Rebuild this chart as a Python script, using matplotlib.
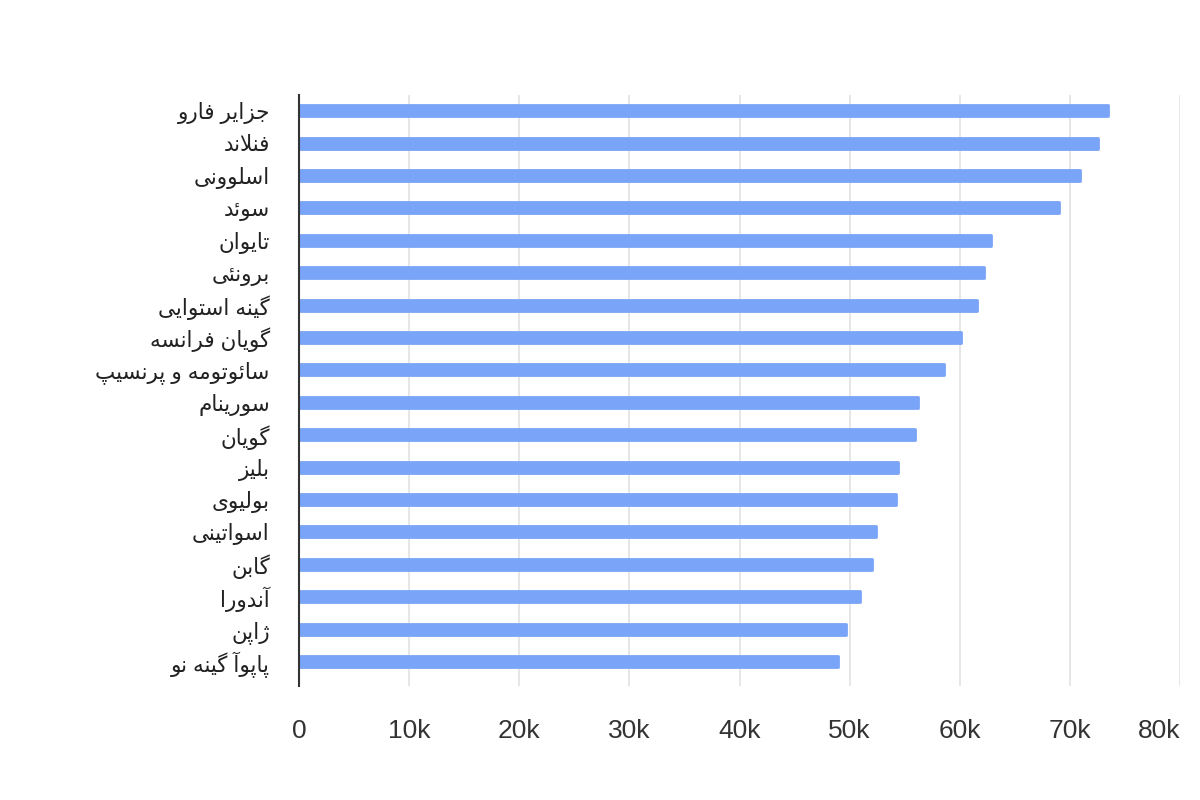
import matplotlib
matplotlib.use('Agg')
import matplotlib.pyplot as plt

countries = ['جزایر فارو', 'فنلاند', 'اسلوونی', 'سوئد', 'تایوان', 'برونئی',
             'گینه استوایی', 'گویان فرانسه', 'سائوتومه و پرنسیپ', 'سورینام',
             'گویان', 'بلیز', 'بولیوی', 'اسواتینی', 'گابن', 'آندورا', 'ژاپن',
             'پاپوآ گینه نو']
values = [73.5, 72.6, 70.9, 69.0, 62.8, 62.2, 61.6, 60.1, 58.6, 56.2,
          55.9, 54.4, 54.2, 52.4, 52.0, 50.9, 49.7, 48.9]  # in thousands
xticks = [0, 10, 20, 30, 40, 50, 60, 70, 80]
xtick_labels = ['0', '10k', '20k', '30k', '40k', '50k', '60k', '70k', '80k']

# matplotlib 3.10 has no arabic shaping, so pick presentation forms by hand
# (isolated, final, initial, medial); None = letter does not join to the next one
FORMS = {
    'ا': ('\uFE8D', '\uFE8E', None, None),
    'آ': ('\uFE81', '\uFE82', None, None),
    'د': ('\uFEA9', '\uFEAA', None, None),
    'ر': ('\uFEAD', '\uFEAE', None, None),
    'ز': ('\uFEAF', '\uFEB0', None, None),
    'ژ': ('\uFB8A', '\uFB8B', None, None),
    'و': ('\uFEED', '\uFEEE', None, None),
    'ب': ('\uFE8F', '\uFE90', '\uFE91', '\uFE92'),
    'پ': ('\uFB56', '\uFB57', '\uFB58', '\uFB59'),
    'ت': ('\uFE95', '\uFE96', '\uFE97', '\uFE98'),
    'ج': ('\uFE9D', '\uFE9E', '\uFE9F', '\uFEA0'),
    'س': ('\uFEB1', '\uFEB2', '\uFEB3', '\uFEB4'),
    'ف': ('\uFED1', '\uFED2', '\uFED3', '\uFED4'),
    'گ': ('\uFB92', '\uFB93', '\uFB94', '\uFB95'),
    'ل': ('\uFEDD', '\uFEDE', '\uFEDF', '\uFEE0'),
    'م': ('\uFEE1', '\uFEE2', '\uFEE3', '\uFEE4'),
    'ن': ('\uFEE5', '\uFEE6', '\uFEE7', '\uFEE8'),
    'ه': ('\uFEE9', '\uFEEA', '\uFEEB', '\uFEEC'),
    'ی': ('\uFBFC', '\uFBFD', '\uFBFE', '\uFBFF'),
    'ئ': ('\uFE89', '\uFE8A', '\uFE8B', '\uFE8C'),
}
LAM_ALEF = {'ا': ('\uFEFB', '\uFEFC'), 'آ': ('\uFEF5', '\uFEF6')}


def shape(text):
    out = []
    i = 0
    while i < len(text):
        ch = text[i]
        if ch not in FORMS:
            out.append(ch)
            i += 1
            continue
        prev = text[i - 1] if i > 0 else ''
        joins_prev = prev in FORMS and FORMS[prev][2] is not None
        nxt = text[i + 1] if i + 1 < len(text) else ''
        if ch == 'ل' and nxt in LAM_ALEF:
            out.append(LAM_ALEF[nxt][1 if joins_prev else 0])
            i += 2
            continue
        joins_next = FORMS[ch][2] is not None and nxt in FORMS
        iso, fin, ini, med = FORMS[ch]
        if joins_prev and joins_next:
            out.append(med)
        elif joins_prev:
            out.append(fin)
        elif joins_next:
            out.append(ini)
        else:
            out.append(iso)
        i += 1
    return ''.join(out)[::-1]


fig = plt.figure(figsize=(12, 8), dpi=100)
ax = fig.add_axes([0.2492, 0.1425, 0.7341, 0.73875])

ypos = list(range(len(countries)))
ax.barh(ypos, values, height=0.34, color='#7aa4f7', edgecolor='#7aa4f7',
        linewidth=2, joinstyle='round', zorder=3)

ax.set_xlim(0, 80)
ax.set_ylim(17.756, -0.485)
ax.set_xticks(xticks)
ax.set_xticklabels(xtick_labels, family=['Liberation Sans', 'DejaVu Sans'],
                   fontsize=19, color='#333333')
ax.get_xticklabels()[-1].set_horizontalalignment('right')
ax.set_yticks(ypos)
ax.set_yticklabels([shape(c) for c in countries],
                   family=['Liberation Sans', 'DejaVu Sans'], fontsize=15.5,
                   color='#222222')
ax.tick_params(axis='x', length=0, pad=24)
ax.tick_params(axis='y', length=0, pad=21)

ax.grid(axis='x', color='#e2e2e2', linewidth=1.2, zorder=0)
ax.grid(axis='y', visible=False)
for side in ['top', 'right', 'bottom']:
    ax.spines[side].set_visible(False)
ax.spines['left'].set_color('#333333')
ax.spines['left'].set_linewidth(1.5)
ax.spines['left'].set_zorder(4)

fig.savefig('out.png', dpi=100)
